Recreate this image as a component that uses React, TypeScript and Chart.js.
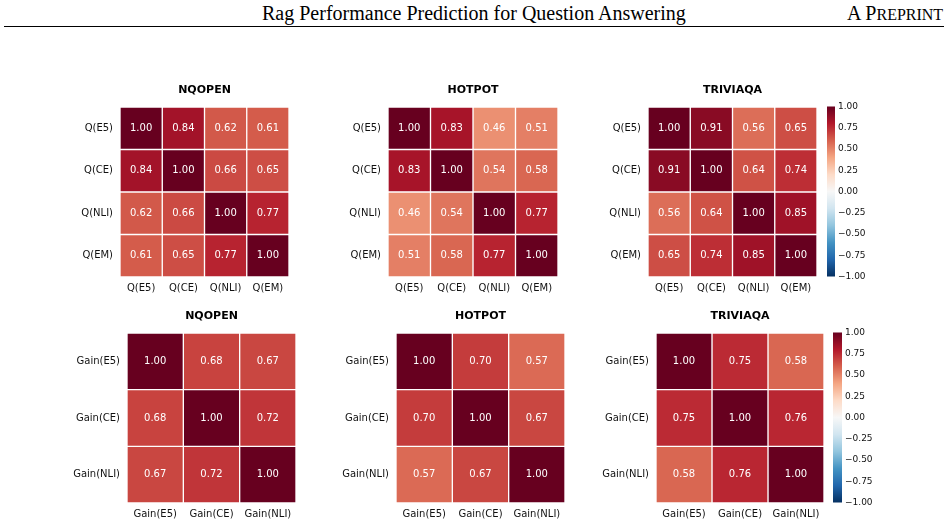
import React, { useEffect, useRef } from 'react';
import { Chart, registerables } from 'chart.js';

Chart.register(...registerables);

// ---------- data ----------
const qLabels = ['Q(E5)', 'Q(CE)', 'Q(NLI)', 'Q(EM)'];
const gainLabels = ['Gain(E5)', 'Gain(CE)', 'Gain(NLI)'];

const nqopenQ = [
  [1.0, 0.84, 0.62, 0.61],
  [0.84, 1.0, 0.66, 0.65],
  [0.62, 0.66, 1.0, 0.77],
  [0.61, 0.65, 0.77, 1.0],
];
const hotpotQ = [
  [1.0, 0.83, 0.46, 0.51],
  [0.83, 1.0, 0.54, 0.58],
  [0.46, 0.54, 1.0, 0.77],
  [0.51, 0.58, 0.77, 1.0],
];
const triviaQ = [
  [1.0, 0.91, 0.56, 0.65],
  [0.91, 1.0, 0.64, 0.74],
  [0.56, 0.64, 1.0, 0.85],
  [0.65, 0.74, 0.85, 1.0],
];
const nqopenGain = [
  [1.0, 0.68, 0.67],
  [0.68, 1.0, 0.72],
  [0.67, 0.72, 1.0],
];
const hotpotGain = [
  [1.0, 0.7, 0.57],
  [0.7, 1.0, 0.67],
  [0.57, 0.67, 1.0],
];
const triviaGain = [
  [1.0, 0.75, 0.58],
  [0.75, 1.0, 0.76],
  [0.58, 0.76, 1.0],
];

const colorbarMin = -1;
const colorbarMax = 1;
const colorbarStep = 0.25;

// ---------- colour map (RdBu_r) ----------
const RDBU_R = [
  '#053061', '#2166ac', '#4393c3', '#92c5de', '#d1e5f0', '#f7f7f7',
  '#fddbc7', '#f4a582', '#d6604d', '#b2182b', '#67001f',
];
function hexToRgb(h: string) {
  return [parseInt(h.slice(1, 3), 16), parseInt(h.slice(3, 5), 16), parseInt(h.slice(5, 7), 16)];
}
function colorFor(v: number) {
  const t = Math.max(0, Math.min(1, (v - colorbarMin) / (colorbarMax - colorbarMin)));
  const pos = t * (RDBU_R.length - 1);
  const i = Math.min(Math.floor(pos), RDBU_R.length - 2);
  const f = pos - i;
  const a = hexToRgb(RDBU_R[i]);
  const b = hexToRgb(RDBU_R[i + 1]);
  const c = a.map((x, k) => Math.round(x + (b[k] - x) * f));
  return `rgb(${c[0]},${c[1]},${c[2]})`;
}

const FONT = "'DejaVu Sans', sans-serif";
const TEXT_COLOR = '#111111';
const Y_AXIS_W = 75;
const X_AXIS_H = 22;
const TITLE_H = 27;
const RIGHT_PAD = 4;

type Box = { l: number; t: number; r: number; b: number };

function Heatmap({ title, labels, values, box }: { title: string; labels: string[]; values: number[][]; box: Box }) {
  const ref = useRef<HTMLCanvasElement>(null);
  const width = box.r - box.l + Y_AXIS_W + RIGHT_PAD;
  const height = box.b - box.t + TITLE_H + X_AXIS_H;
  useEffect(() => {
    if (!ref.current) return;
    const n = labels.length;
    const cellText = {
      id: 'cellText',
      afterDatasetsDraw(chart: any) {
        const ctx = chart.ctx;
        ctx.save();
        ctx.font = `10px ${FONT}`;
        ctx.fillStyle = '#ffffff';
        ctx.textAlign = 'center';
        ctx.textBaseline = 'middle';
        chart.data.datasets.forEach((_ds: any, j: number) => {
          chart.getDatasetMeta(j).data.forEach((el: any, i: number) => {
            const p = el.getProps(['x', 'base', 'y'], true);
            ctx.fillText(values[i][j].toFixed(2), (p.x + p.base) / 2, p.y);
          });
        });
        ctx.restore();
      },
    };
    const chart = new Chart(ref.current, {
      type: 'bar',
      data: {
        labels,
        datasets: labels.map((col, j) => ({
          label: col,
          data: labels.map(() => 1),
          backgroundColor: values.map((row) => colorFor(row[j])),
          borderColor: '#ffffff',
          borderWidth: 1,
          borderSkipped: false,
          barPercentage: 1,
          categoryPercentage: 1,
        })),
      },
      options: {
        indexAxis: 'y',
        responsive: false,
        animation: false,
        events: [],
        layout: { padding: { left: 0, right: RIGHT_PAD, top: 0, bottom: 0 } },
        plugins: {
          legend: { display: false },
          tooltip: { enabled: false },
          title: {
            display: true,
            text: title,
            fullSize: false,
            color: '#000000',
            font: { family: FONT, size: 11, weight: 'bold', lineHeight: 1.2 },
            padding: { top: 4, bottom: TITLE_H - 4 - 13.2 },
          },
        },
        scales: {
          x: {
            type: 'linear',
            stacked: true,
            min: 0,
            max: n,
            afterBuildTicks: (s: any) => {
              s.ticks = labels.map((_l, i) => ({ value: i + 0.5 }));
            },
            afterFit: (s: any) => {
              s.height = X_AXIS_H;
            },
            ticks: {
              autoSkip: false,
              maxRotation: 0,
              padding: 5,
              color: TEXT_COLOR,
              font: { family: FONT, size: 10 },
              callback: (_v: any, i: number) => labels[i],
            },
            grid: { display: false, drawTicks: false },
            border: { display: false },
          },
          y: {
            type: 'category',
            stacked: true,
            afterFit: (s: any) => {
              s.width = Y_AXIS_W;
            },
            ticks: {
              padding: 7,
              color: TEXT_COLOR,
              font: { family: FONT, size: 10 },
            },
            grid: { display: false, drawTicks: false },
            border: { display: false },
          },
        },
      } as any,
      plugins: [cellText],
    });
    return () => chart.destroy();
  }, []);
  return (
    <canvas
      ref={ref}
      width={width}
      height={height}
      style={{ position: 'absolute', left: box.l - Y_AXIS_W, top: box.t - TITLE_H, width, height, display: 'block' }}
    />
  );
}

const CB_PAD = 8;
const CB_AXIS_W = 42;

function Colorbar({ box }: { box: Box }) {
  const ref = useRef<HTMLCanvasElement>(null);
  const width = box.r - box.l + CB_AXIS_W;
  const height = box.b - box.t + CB_PAD * 2;
  useEffect(() => {
    if (!ref.current) return;
    const chart = new Chart(ref.current, {
      type: 'bar',
      data: {
        labels: [''],
        datasets: [
          {
            data: [[colorbarMin, colorbarMax]],
            backgroundColor: (c: any) => {
              const area = c.chart.chartArea;
              if (!area) return 'transparent';
              const g = c.chart.ctx.createLinearGradient(0, area.bottom, 0, area.top);
              RDBU_R.forEach((col, i) => g.addColorStop(i / (RDBU_R.length - 1), col));
              return g;
            },
            borderWidth: 0,
            barPercentage: 1,
            categoryPercentage: 1,
          },
        ],
      },
      options: {
        responsive: false,
        animation: false,
        events: [],
        layout: { padding: { left: 0, right: 0, top: CB_PAD, bottom: CB_PAD } },
        plugins: { legend: { display: false }, tooltip: { enabled: false }, title: { display: false } },
        scales: {
          x: { display: false },
          y: {
            position: 'right',
            min: colorbarMin,
            max: colorbarMax,
            afterFit: (s: any) => {
              s.width = CB_AXIS_W;
            },
            ticks: {
              stepSize: colorbarStep,
              padding: 3,
              color: TEXT_COLOR,
              font: { family: FONT, size: 9 },
              callback: (v: any) => Number(v).toFixed(2).replace('-', '\u2212'),
            },
            grid: { display: false, drawTicks: false },
            border: { display: false },
          },
        },
      } as any,
    });
    return () => chart.destroy();
  }, []);
  return (
    <canvas
      ref={ref}
      width={width}
      height={height}
      style={{ position: 'absolute', left: box.l, top: box.t - CB_PAD, width, height, display: 'block' }}
    />
  );
}

export default function App() {
  return (
    <div style={{ position: 'fixed', left: 0, top: 0, width: 948, height: 525, background: '#ffffff', overflow: 'hidden' }}>
      <div
        style={{
          position: 'absolute',
          left: 262,
          top: 1,
          fontFamily: "'Liberation Serif', serif",
          fontSize: 20,
          lineHeight: '24px',
          whiteSpace: 'nowrap',
          color: '#000',
        }}
      >
        Rag Performance Prediction for Question Answering
      </div>
      <div
        style={{
          position: 'absolute',
          left: 847,
          top: 1,
          fontFamily: "'Liberation Serif', serif",
          fontSize: 20,
          lineHeight: '24px',
          whiteSpace: 'nowrap',
          color: '#000',
        }}
      >
        A P<span style={{ fontSize: 16 }}>REPRINT</span>
      </div>
      <div style={{ position: 'absolute', left: 4, top: 26, width: 940, height: 1, background: '#000' }} />

      <Heatmap title="NQOPEN" labels={qLabels} values={nqopenQ} box={{ l: 120, t: 107, r: 289, b: 277 }} />
      <Heatmap title="HOTPOT" labels={qLabels} values={hotpotQ} box={{ l: 388, t: 107, r: 558, b: 277 }} />
      <Heatmap title="TRIVIAQA" labels={qLabels} values={triviaQ} box={{ l: 648, t: 107, r: 817, b: 277 }} />
      <Colorbar box={{ l: 827, t: 106, r: 835, b: 277 }} />

      <Heatmap title="NQOPEN" labels={gainLabels} values={nqopenGain} box={{ l: 127, t: 333, r: 296, b: 503 }} />
      <Heatmap title="HOTPOT" labels={gainLabels} values={hotpotGain} box={{ l: 396, t: 333, r: 565, b: 503 }} />
      <Heatmap title="TRIVIAQA" labels={gainLabels} values={triviaGain} box={{ l: 656, t: 333, r: 824, b: 503 }} />
      <Colorbar box={{ l: 833, t: 332, r: 842, b: 503 }} />
    </div>
  );
}
